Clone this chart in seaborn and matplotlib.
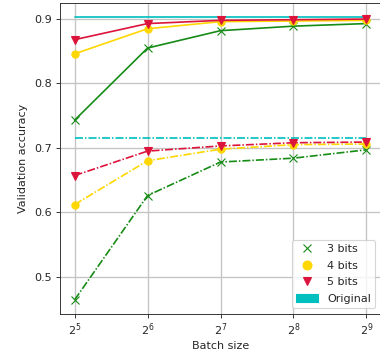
import matplotlib
matplotlib.use("Agg")
import matplotlib.pyplot as plt
from matplotlib.lines import Line2D
from matplotlib.patches import Patch
import numpy as np
import pandas as pd
import seaborn as sns

# Batch sizes (powers of two)
batch_sizes = [32, 64, 128, 256, 512]

# Upper group (solid lines)
acc_3bit_a = [0.743, 0.855, 0.882, 0.889, 0.893]
acc_4bit_a = [0.846, 0.885, 0.896, 0.897, 0.898]
acc_5bit_a = [0.868, 0.893, 0.898, 0.899, 0.900]
acc_orig_a = [0.903, 0.903, 0.903, 0.903, 0.903]

# Lower group (dash-dot lines)
acc_3bit_b = [0.464, 0.626, 0.678, 0.684, 0.697]
acc_4bit_b = [0.612, 0.680, 0.698, 0.705, 0.706]
acc_5bit_b = [0.657, 0.695, 0.703, 0.708, 0.709]
acc_orig_b = [0.715, 0.715, 0.715, 0.715, 0.715]

legend_labels = ["3 bits", "4 bits", "5 bits", "Original"]

sns.set_style("ticks", {"axes.grid": True, "grid.color": "#c4c4c4",
                        "axes.edgecolor": "#262626"})
plt.rcParams["font.family"] = ["DejaVu Sans"]
plt.rcParams["font.size"] = 10

DPI = 80
W, H = 380, 356
fig = plt.figure(figsize=(W / DPI, H / DPI), dpi=DPI)
ax = fig.add_axes([60 / W, (H - 314) / H, (381 - 60) / W, (314 - 3) / H])

green, gold, red, cyan = "#168c16", "#ffd700", "#dc143c", "#00bfbf"
dashdot = (0, (4.8, 1.2, 0.9, 1.2))

series = [
    (acc_orig_a, cyan, None, "-"), (acc_orig_b, cyan, None, dashdot),
    (acc_3bit_a, green, "x", "-"), (acc_3bit_b, green, "x", dashdot),
    (acc_4bit_a, gold, "o", "-"), (acc_4bit_b, gold, "o", dashdot),
    (acc_5bit_a, red, "v", "-"), (acc_5bit_b, red, "v", dashdot),
]
for vals, col, mk, ls in series:
    df = pd.DataFrame({"batch": batch_sizes, "acc": vals})
    sns.lineplot(data=df, x="batch", y="acc", ax=ax, color=col, marker=mk,
                 markersize=6.5, markeredgecolor=col, markeredgewidth=1.0,
                 linewidth=1.5, legend=False)
    ax.lines[-1].set_linestyle(ls)

ax.set_xscale("log", base=2)
ax.set_xticks(batch_sizes)
ax.set_xticklabels([rf"$2^{{{int(np.log2(b))}}}$" for b in batch_sizes])
ax.minorticks_off()
ax.set_yticks([0.5, 0.6, 0.7, 0.8, 0.9])
ax.set_xlabel("Batch size", labelpad=2)
ax.set_ylabel("Validation accuracy", labelpad=6)
ax.tick_params(length=3.5, color="#262626", labelcolor="#262626")
ax.grid(True, linewidth=1.2)

handles = [
    Line2D([], [], color=green, marker="x", linestyle="none", markersize=8),
    Line2D([], [], color=gold, marker="o", linestyle="none", markersize=8),
    Line2D([], [], color=red, marker="v", linestyle="none", markersize=8),
    Patch(facecolor=cyan, edgecolor=cyan),
]
ax.legend(handles, legend_labels, loc="lower right", frameon=True,
          labelspacing=0.6)

fig.savefig("out.png", dpi=DPI)
